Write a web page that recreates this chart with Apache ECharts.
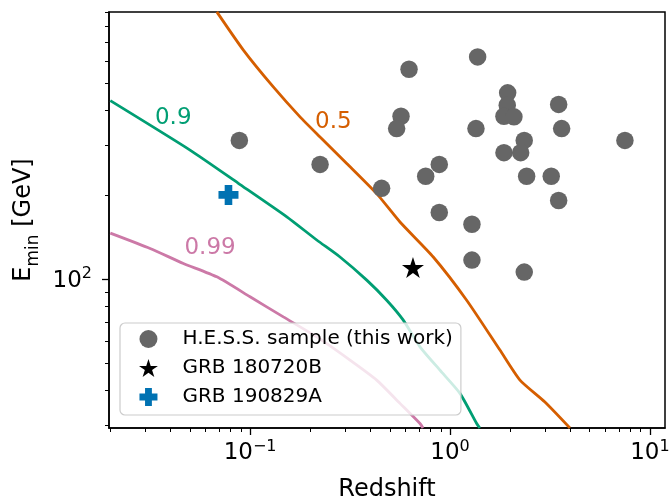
<!DOCTYPE html>
<html>
<head>
<meta charset="utf-8">
<script src="https://cdn.jsdelivr.net/npm/echarts@6/dist/echarts.min.js"></script>
<style>
  html, body { margin: 0; padding: 0; background: #fff; }
  #chart { width: 671px; height: 502px; }
</style>
</head>
<body>
<div id="chart"></div>
<script>
// H.E.S.S. GRB sample: redshift vs minimum energy
const hessZ = [0.624, 1.375, 0.569, 0.541, 1.349, 1.943, 1.934, 1.862, 2.089, 3.496,
               3.619, 7.50, 2.352, 1.862, 2.257, 0.884, 0.756, 0.455, 2.418, 3.21,
               3.496, 0.884, 1.288, 1.288, 2.352, 0.0884, 0.224];
const hessE = [562, 622, 382, 345, 345, 463, 418, 382, 380, 421,
               345, 313, 313, 283, 283, 257, 233, 211, 233, 233,
               191, 173, 157, 117, 106, 313, 257];

const grb180720bZ = [0.653];
const grb180720bE = [110];
const grb190829aZ = [0.078];
const grb190829aE = [200];

// Contour levels
const c50Z = [0.0682, 0.0926, 0.1307, 0.1778, 0.2239, 0.3045, 0.430, 0.5623, 0.825, 1.212, 1.778, 2.239, 2.985, 3.98];
const c50E = [901, 658, 486, 380, 322, 259, 202, 160, 120, 84.1, 55.8, 43.6, 36.4, 29.4];
const c90Z = [0.0200, 0.0501, 0.0874, 0.1527, 0.2156, 0.2818, 0.3834, 0.4826, 0.584, 0.7079, 0.891, 1.122, 1.36, 1.41];
const c90E = [434, 289, 220, 167, 138, 120, 99.2, 84.1, 71.4, 57.3, 47.3, 39.1, 30.5, 29.4];
const c99Z = [0.0200, 0.03162, 0.0464, 0.0682, 0.1, 0.1467, 0.2156, 0.3162, 0.430, 0.5623, 0.7079, 0.733];
const c99E = [146, 128.7, 113.8, 101.9, 86.5, 73.3, 62.2, 51.4, 43.6, 36.0, 30.5, 29.4];

const contourNames = ['0.5', '0.9', '0.99'];
const contourLabelZ = [0.261, 0.0413, 0.0631];
const contourLabelE = [365, 375, 129];

const legendNames = ['H.E.S.S. sample (this work)', 'GRB 180720B', 'GRB 190829A'];

// Axis ranges and tick decades
const zRange = [0.0197, 11.9];
const eRange = [29.4, 900];
const xMajorExp = [-1, 0, 1];
const yMajorExp = [2];

const COL = { orange: '#d55e00', green: '#009e73', pink: '#cc79a7', blue: '#0072b2', gray: '#666666' };
const FONT = 'DejaVu Sans';

const lg = Math.log10;
const pairs = (xs, ys) => xs.map((x, i) => [lg(x), lg(ys[i])]);

function minorTicks(lo, hi) {
  const out = [];
  for (let d = Math.floor(lo) - 1; d <= Math.ceil(hi); d++) {
    for (let k = 2; k <= 9; k++) {
      const v = d + lg(k);
      if (v >= lo - 1e-9 && v <= hi + 1e-9) out.push(v);
    }
  }
  return out;
}

function starPath() {
  let d = '';
  for (let i = 0; i < 10; i++) {
    const a = -Math.PI / 2 + i * Math.PI / 5;
    const r = i % 2 ? 0.381966 : 1;
    d += (i ? 'L' : 'M') + (r * Math.cos(a)).toFixed(4) + ',' + (r * Math.sin(a)).toFixed(4);
  }
  return 'path://' + d + 'Z';
}
const plusPath = 'path://M-0.38,-1L0.38,-1L0.38,-0.38L1,-0.38L1,0.38L0.38,0.38L0.38,1L-0.38,1L-0.38,0.38L-1,0.38L-1,-0.38L-0.38,-0.38Z';

const xLo = lg(zRange[0]), xHi = lg(zRange[1]);
const yLo = lg(eRange[0]), yHi = lg(eRange[1]);

const powRich = {
  b: { fontFamily: FONT, fontSize: 23, color: '#000', verticalAlign: 'bottom', lineHeight: 26 },
  s: { fontFamily: FONT, fontSize: 16, color: '#000', verticalAlign: 'top', lineHeight: 16 }
};
const powLabel = v => '{b|10}{s|' + String(Math.round(v)).replace('-', '\u2212') + '}';

function lineSeries(name, zs, es, color) {
  return {
    name: name, type: 'line', data: pairs(zs, es), showSymbol: false, smooth: 0.2,
    lineStyle: { color: color, width: 2.8 }, silent: true, z: 2, clip: true
  };
}

const chart = echarts.init(document.getElementById('chart'), null, { renderer: 'canvas' });
chart.setOption({
  animation: false,
  backgroundColor: '#fff',
  grid: {
    left: 109, right: 6, top: 12, bottom: 74, outerBoundsMode: 'none', containLabel: false,
    show: true, borderColor: '#000', borderWidth: 1.5, backgroundColor: 'transparent'
  },
  xAxis: [{
    type: 'value', min: xLo, max: xHi, position: 'bottom',
    name: 'Redshift', nameLocation: 'middle', nameGap: 50,
    nameTextStyle: { fontFamily: FONT, fontSize: 24, color: '#000' },
    axisLine: { show: true, onZero: false, lineStyle: { color: '#000', width: 1.5 } },
    axisTick: { show: true, customValues: xMajorExp, length: 7, lineStyle: { color: '#000', width: 1.3 } },
    axisLabel: { show: true, customValues: xMajorExp, margin: 11, formatter: powLabel, rich: powRich },
    splitLine: { show: false }
  }, {
    type: 'value', min: xLo, max: xHi, position: 'bottom', gridIndex: 0,
    axisLine: { show: false, onZero: false },
    axisTick: { show: true, customValues: minorTicks(xLo, xHi), length: 4, lineStyle: { color: '#000', width: 1 } },
    axisLabel: { show: false }, splitLine: { show: false }
  }],
  yAxis: [{
    type: 'value', min: yLo, max: yHi, position: 'left',
    name: '{e|E}{sub|min}{e| [GeV]}', nameLocation: 'middle', nameGap: 66, nameRotate: 90,
    nameTextStyle: {
      rich: {
        e: { fontFamily: FONT, fontSize: 24, color: '#000', verticalAlign: 'top', lineHeight: 30 },
        sub: { fontFamily: FONT, fontSize: 17, color: '#000', verticalAlign: 'bottom', lineHeight: 17 }
      }
    },
    axisLine: { show: true, onZero: false, lineStyle: { color: '#000', width: 1.5 } },
    axisTick: { show: true, customValues: yMajorExp, length: 7, lineStyle: { color: '#000', width: 1.3 } },
    axisLabel: { show: true, customValues: yMajorExp, margin: 17, formatter: powLabel, rich: powRich },
    splitLine: { show: false }
  }, {
    type: 'value', min: yLo, max: yHi, position: 'left', gridIndex: 0,
    axisLine: { show: false, onZero: false },
    axisTick: { show: true, customValues: minorTicks(yLo, yHi), length: 4, lineStyle: { color: '#000', width: 1 } },
    axisLabel: { show: false }, splitLine: { show: false }
  }],
  legend: {
    data: legendNames,
    orient: 'vertical', left: 120, top: 323,
    padding: [6, 8, 8, 19], itemGap: 9, itemWidth: 28, itemHeight: 18,
    backgroundColor: 'rgba(255,255,255,0.8)', borderColor: '#cccccc', borderWidth: 1.2, borderRadius: 5,
    textStyle: { fontFamily: FONT, fontSize: 20, color: '#000', padding: [0, 0, 0, 15] },
    selectedMode: false, z: 10
  },
  series: [
    lineSeries('c50', c50Z, c50E, COL.orange),
    lineSeries('c90', c90Z, c90E, COL.green),
    lineSeries('c99', c99Z, c99E, COL.pink),
    {
      name: 'contour labels', type: 'scatter', symbolSize: 1, silent: true, z: 3,
      itemStyle: { color: 'rgba(0,0,0,0)', opacity: 1 },
      data: contourNames.map((n, i) => ({
        name: n, value: [lg(contourLabelZ[i]), lg(contourLabelE[i])],
        label: { color: [COL.orange, COL.green, COL.pink][i] }
      })),
      label: { show: true, position: 'inside', formatter: p => p.name, fontFamily: FONT, fontSize: 23 }
    },
    {
      name: legendNames[0], type: 'scatter', data: pairs(hessZ, hessE),
      symbol: 'circle', symbolSize: 17.5, itemStyle: { color: COL.gray, opacity: 1 }, z: 4
    },
    {
      name: legendNames[1], type: 'scatter', data: pairs(grb180720bZ, grb180720bE),
      symbol: starPath(), symbolKeepAspect: true, symbolSize: 22, itemStyle: { color: '#000', opacity: 1 }, z: 5
    },
    {
      name: legendNames[2], type: 'scatter', data: pairs(grb190829aZ, grb190829aE),
      symbol: plusPath, symbolKeepAspect: true, symbolSize: 20, itemStyle: { color: COL.blue, opacity: 1 }, z: 5
    }
  ]
});
</script>
</body>
</html>
